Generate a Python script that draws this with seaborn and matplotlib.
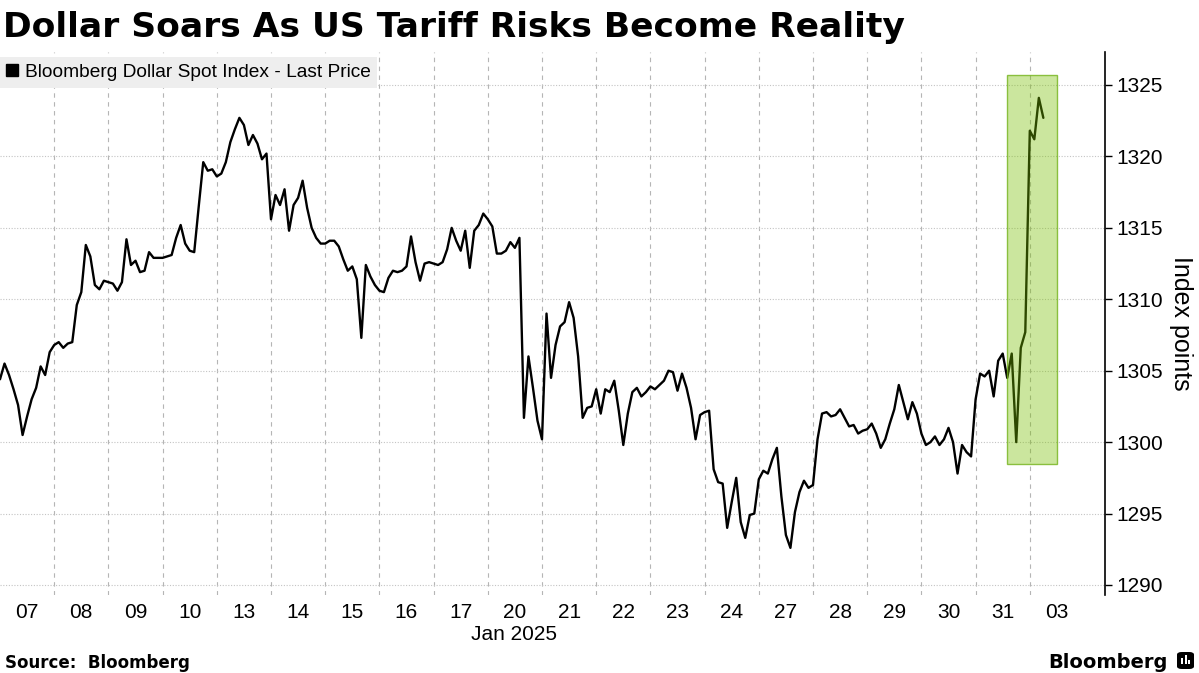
import pandas as pd
import seaborn as sns
import matplotlib.pyplot as plt
from matplotlib.patches import Rectangle, FancyBboxPatch
from matplotlib.lines import Line2D

# -- Data (12 readings per trading day)
day_labels = ["07", "08", "09", "10", "13", "14", "15", "16", "17", "20",
              "21", "22", "23", "24", "27", "28", "29", "30", "31", "03"]

jan07 = [1304.4, 1305.5, 1304.7, 1303.7, 1302.6, 1300.5, 1301.8, 1303.0, 1303.8, 1305.3, 1304.7, 1306.3]
jan08 = [1306.8, 1307.0, 1306.6, 1306.9, 1307.0, 1309.6, 1310.5, 1313.8, 1313.0, 1311.0, 1310.7, 1311.3]
jan09 = [1311.2, 1311.1, 1310.6, 1311.2, 1314.2, 1312.4, 1312.7, 1311.9, 1312.0, 1313.3, 1312.9, 1312.9]
jan10 = [1312.9, 1313.0, 1313.1, 1314.3, 1315.2, 1313.9, 1313.4, 1313.3, 1316.5, 1319.6, 1319.0, 1319.1]
jan13 = [1318.6, 1318.8, 1319.6, 1321.0, 1321.9, 1322.7, 1322.2, 1320.8, 1321.5, 1320.9, 1319.8, 1320.2]
jan14 = [1315.6, 1317.3, 1316.6, 1317.7, 1314.8, 1316.6, 1317.1, 1318.3, 1316.4, 1315.0, 1314.3, 1313.9]
jan15 = [1313.9, 1314.1, 1314.1, 1313.7, 1312.8, 1312.0, 1312.3, 1311.4, 1307.3, 1312.4, 1311.6, 1311.0]
jan16 = [1310.6, 1310.5, 1311.5, 1312.0, 1311.9, 1312.0, 1312.3, 1314.4, 1312.6, 1311.3, 1312.5, 1312.6]
jan17 = [1312.5, 1312.4, 1312.6, 1313.5, 1315.0, 1314.1, 1313.4, 1314.8, 1312.2, 1314.8, 1315.2, 1316.0]
jan20 = [1315.6, 1315.1, 1313.2, 1313.2, 1313.4, 1314.0, 1313.6, 1314.3, 1301.7, 1306.0, 1303.8, 1301.5]
jan21 = [1300.2, 1309.0, 1304.5, 1306.8, 1308.1, 1308.4, 1309.8, 1308.7, 1306.0, 1301.7, 1302.4, 1302.5]
jan22 = [1303.7, 1302.0, 1303.7, 1303.5, 1304.3, 1302.2, 1299.8, 1302.0, 1303.5, 1303.8, 1303.2, 1303.5]
jan23 = [1303.9, 1303.7, 1304.0, 1304.3, 1305.0, 1304.9, 1303.6, 1304.8, 1303.8, 1302.4, 1300.2, 1301.9]
jan24 = [1302.1, 1302.2, 1298.1, 1297.2, 1297.1, 1294.0, 1295.8, 1297.5, 1294.4, 1293.3, 1294.9, 1295.0]
jan27 = [1297.4, 1298.0, 1297.8, 1298.8, 1299.6, 1296.2, 1293.5, 1292.6, 1295.1, 1296.5, 1297.3, 1296.8]
jan28 = [1297.0, 1300.2, 1302.0, 1302.1, 1301.8, 1301.9, 1302.3, 1301.7, 1301.1, 1301.2, 1300.6, 1300.8]
jan29 = [1300.9, 1301.3, 1300.6, 1299.6, 1300.2, 1301.3, 1302.3, 1304.0, 1302.8, 1301.6, 1302.8, 1302.0]
jan30 = [1300.6, 1299.8, 1300.0, 1300.4, 1299.8, 1300.2, 1301.0, 1300.0, 1297.8, 1299.8, 1299.3, 1299.0]
jan31 = [1303.0, 1304.8, 1304.6, 1305.0, 1303.2, 1305.7, 1306.2, 1304.5, 1306.2, 1300.0, 1306.6, 1307.7]
feb03 = [1321.8, 1321.2, 1324.1, 1322.7]

daily_values = [jan07, jan08, jan09, jan10, jan13, jan14, jan15, jan16, jan17, jan20,
                jan21, jan22, jan23, jan24, jan27, jan28, jan29, jan30, jan31, feb03]
samples_per_day = 12

# highlighted window (in trading-day units / index points)
highlight_start, highlight_end = 18.58, 19.50
highlight_low, highlight_high = 1298.5, 1325.7

y_ticks = [1290, 1295, 1300, 1305, 1310, 1315, 1320, 1325]

records = []
for i, vals in enumerate(daily_values):
    for k, v in enumerate(vals):
        records.append({"pos": i + k / samples_per_day, "value": v})
df = pd.DataFrame(records)

# -- Plot
sns.set_style("white")
plt.rcParams['font.family'] = ['Liberation Sans', 'DejaVu Sans']
plt.rcParams['text.color'] = 'black'
plt.rcParams['axes.labelcolor'] = 'black'
plt.rcParams['xtick.color'] = 'black'
plt.rcParams['ytick.color'] = 'black'

W, H = 1199, 673
fig = plt.figure(figsize=(W / 100, H / 100), dpi=100)
ax_left, ax_right, ax_top, ax_bottom = 0, 1105, 52, 595
ax = fig.add_axes([ax_left / W, 1 - ax_bottom / H, (ax_right - ax_left) / W, (ax_bottom - ax_top) / H])

sns.lineplot(data=df, x="pos", y="value", color="black", linewidth=1.7,
             estimator=None, ax=ax, zorder=2)

ax.add_patch(Rectangle((highlight_start, highlight_low), highlight_end - highlight_start,
                       highlight_high - highlight_low,
                       facecolor=(0.47, 0.75, 0.0, 0.38), edgecolor=(0.45, 0.70, 0.1, 0.8),
                       linewidth=1.0, zorder=3))

ax.set_xlim(0, 1105 / 54.2)
ax.set_ylim(1289.3, 1327.31)

# x axis: labels in the middle of each day, grid at day boundaries
ax.set_xticks([i + 0.5 for i in range(len(day_labels))])
ax.set_xticklabels(day_labels)
ax.set_xticks(range(1, len(day_labels)), minor=True)
ax.tick_params(axis="x", which="both", length=0, labelsize=15, pad=6)
ax.grid(axis="x", which="minor", linestyle=(0, (4, 4)), color="#b5b5b5", linewidth=0.8)
ax.grid(axis="x", which="major", visible=False)

# y axis on the right
ax.yaxis.tick_right()
ax.yaxis.set_label_position("right")
ax.set_yticks(y_ticks)
ax.tick_params(axis="y", direction="out", length=5, width=1, color="black",
               labelsize=15, pad=3)
ax.grid(axis="y", linestyle=(0, (1, 1.5)), color="#c4c4c4", linewidth=0.8)
ax.set_ylabel("Index points", rotation=270, fontsize=18, labelpad=22)
ax.set_xlabel("")

for side in ["left", "top", "bottom"]:
    ax.spines[side].set_visible(False)
ax.spines["right"].set_color("black")
ax.spines["right"].set_linewidth(1.2)

handle = Line2D([0], [0], marker="s", color="black", linestyle="None", markersize=9)
ax.legend(handles=[handle], labels=["Bloomberg Dollar Spot Index - Last Price"],
          loc="upper left", bbox_to_anchor=(0, 1 - 5 / (ax_bottom - ax_top)),
          frameon=True, fancybox=False, facecolor="#eeeeee", edgecolor="none",
          framealpha=1, borderpad=0.35, handlelength=0.6, handletextpad=0.35,
          borderaxespad=0, prop={"family": "Liberation Sans", "size": 13.8})

# texts
fig.text(3 / W, 1 - 37 / H, "Dollar Soars As US Tariff Risks Become Reality",
         fontsize=24.8, fontweight="bold", family="DejaVu Sans", va="baseline")
fig.text(514 / W, 1 - 634 / H, "Jan 2025", fontsize=15, ha="center", va="center")
fig.text(5 / W, 1 - 668 / H, "Source:  Bloomberg", fontsize=12, fontweight="bold",
         family="DejaVu Sans", va="baseline")
fig.text(1168 / W, 1 - 668 / H, "Bloomberg", fontsize=14, fontweight="bold",
         family="DejaVu Sans", va="baseline", ha="right")

# little logo square
fig.patches.append(FancyBboxPatch((1177 / W, 1 - 669 / H), 17 / W, 17 / H,
                                  boxstyle="round,pad=0,rounding_size=0.004",
                                  transform=fig.transFigure, facecolor="black",
                                  edgecolor="none", figure=fig))
for bx, bh in [(1181, 6), (1184.5, 9), (1188, 4)]:
    fig.patches.append(Rectangle((bx / W, 1 - 664 / H), 2 / W, bh / H,
                                 transform=fig.transFigure, facecolor="white",
                                 edgecolor="none", figure=fig))

fig.savefig("out.png", dpi=100)
